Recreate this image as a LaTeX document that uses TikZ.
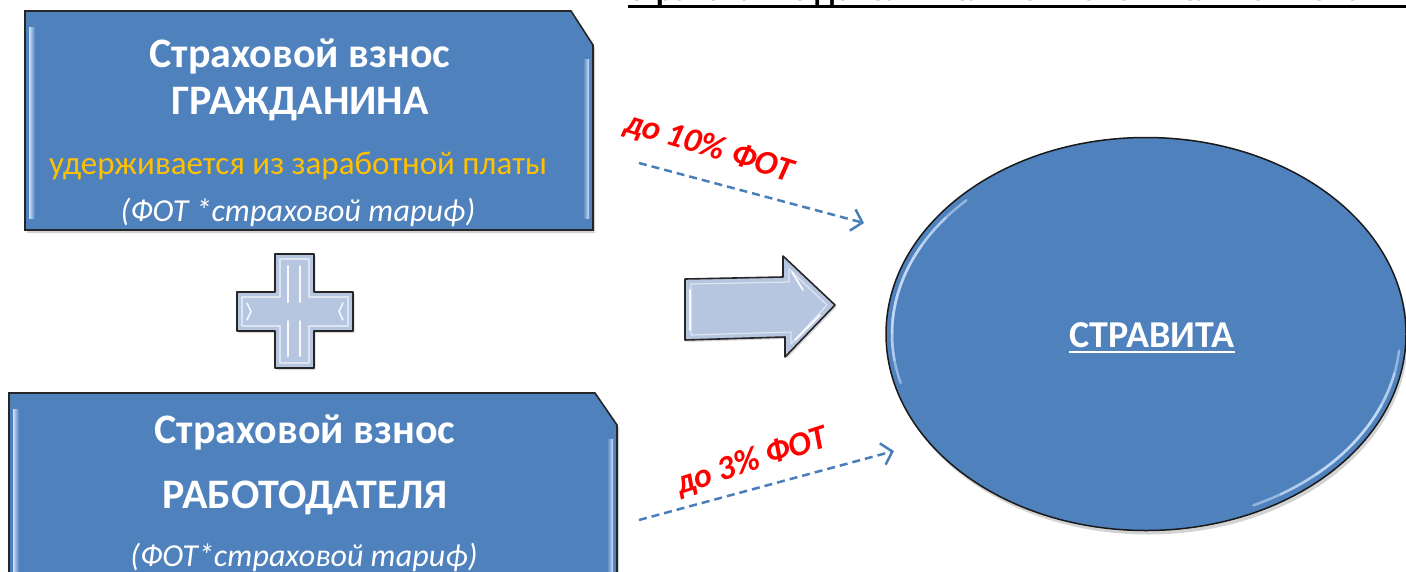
\documentclass[tikz,border=0pt]{standalone}
\usepackage{fontspec}
\setmainfont{Carlito}
\usetikzlibrary{shadows,arrows.meta,calc,shapes.geometric}
\definecolor{boxblue}{RGB}{79,129,189}
\definecolor{bevelhi}{RGB}{205,225,250}
\definecolor{lightfill}{RGB}{183,198,224}
\definecolor{orangetxt}{RGB}{255,192,0}
\definecolor{arrowblue}{RGB}{74,126,187}
\tikzset{
  boxshape/.style={fill=boxblue, draw=black!85, line width=1.6pt, line join=miter,
    drop shadow={shadow xshift=2pt, shadow yshift=-3pt, opacity=0.35}},
  holder/.style={inner sep=0pt, outer sep=0pt},
  titletext/.style={text=white, font=\fontsize{42}{48}\selectfont\bfseries, inner sep=0pt, anchor=base},
  notetext/.style={text=orangetxt, font=\fontsize{33}{38}\selectfont, inner sep=0pt, anchor=base},
  formulatext/.style={text=white, font=\fontsize{32}{38}\selectfont\itshape, inner sep=0pt, anchor=base},
  glass/.style={fill=lightfill, draw=black!85, line width=1.6pt, line join=round,
    drop shadow={shadow xshift=1.5pt, shadow yshift=-2pt, opacity=0.3}},
  glasshi/.style={draw=white, opacity=0.55, line width=1.2pt, line join=round},
  streak/.style={draw=white, opacity=0.9, line width=2pt, line cap=round},
  rim/.style={draw=bevelhi, line width=2.5pt, line cap=round, opacity=0.55},
  pcttext/.style={text=red, font=\fontsize{34}{38}\selectfont\bfseries\itshape, inner sep=0pt},
  flow/.style={draw=arrowblue, line width=2.5pt, dash pattern=on 8pt off 5pt,
    -{Straight Barb[length=10pt,width=22pt,line width=2.5pt]}},
}
\begin{document}
\begin{tikzpicture}[x=1pt,y=-1pt]
\useasboundingbox (0,0) rectangle (1406,571);
\clip (0,0) rectangle (1406,571);

% clipped heading at the top
\node[anchor=base west, inner sep=0pt, font=\fontsize{33}{36}\selectfont\bfseries] (heading) at (629,0.5) {страхование дополнительной накопительной пенсии};
\draw[line width=3pt] ($(heading.base west)+(-1,6)$) -- ($(heading.base east)+(30,6)$);

% citizen box
\node[holder, minimum width=568pt, minimum height=219pt] (citizen) at (309,120.5) {};
\path[boxshape] (citizen.south west) -- (citizen.north west) -- ($(citizen.north east)+(-22,0)$)
  -- ($(citizen.north east)+(0,34)$) -- (citizen.south east) -- cycle;
\fill[left color=bevelhi, right color=boxblue] ($(citizen.north west)+(4,16)$) rectangle ($(citizen.south west)+(10,-12)$);
\fill[left color=boxblue, right color=bevelhi] ($(citizen.north east)+(-10,48)$) rectangle ($(citizen.south east)+(-4,-12)$);
\node[titletext] (c1) at (300,67) {Страховой взнос};
\node[titletext] (c2) at (300,114) {ГРАЖДАНИНА};
\node[notetext] (c3) at (298,174) {удерживается из заработной платы};
\node[formulatext] (c4) at (298,221) {(ФОТ *страховой тариф)};

% employer box
\node[holder, minimum width=608pt, minimum height=210pt] (employer) at (313,498) {};
\path[boxshape] (employer.south west) -- (employer.north west) -- ($(employer.north east)+(-22,0)$)
  -- ($(employer.north east)+(0,32)$) -- (employer.south east) -- cycle;
\fill[left color=bevelhi, right color=boxblue] ($(employer.north west)+(4,16)$) rectangle ($(employer.south west)+(10,-12)$);
\fill[left color=boxblue, right color=bevelhi] ($(employer.north east)+(-10,46)$) rectangle ($(employer.south east)+(-4,-12)$);
\node[titletext] (e1) at (305,443) {Страховой взнос};
\node[titletext] (e2) at (305,508) {РАБОТОДАТЕЛЯ};
\node[formulatext] (e3) at (304,566) {(ФОТ*страховой тариф)};

% plus sign
\path[glass] (275,254) -- (314,254) -- (314,292) -- (353,292) -- (353,331) -- (314,331)
  -- (314,368) -- (275,368) -- (275,331) -- (237,331) -- (237,292) -- (275,292) -- cycle;
\path[glasshi] (280,259) -- (309,259) -- (309,297) -- (348,297) -- (348,326) -- (309,326)
  -- (309,363) -- (280,363) -- (280,326) -- (242,326) -- (242,297) -- (280,297) -- cycle;
\draw[streak] (288,266) -- (288,302);
\draw[streak] (300,266) -- (300,302);
\draw[streak] (288,321) -- (288,356);
\draw[streak] (300,321) -- (300,356);
\draw[streak, line width=1.5pt] (247,303) -- (251,311.5) -- (247,320);
\draw[streak, line width=1.5pt] (343,303) -- (339,311.5) -- (343,320);

% big arrow
\path[glass] (685,279) -- (783,277) -- (783,256) -- (835,305) -- (785,357) -- (785,337)
  -- (685,340) -- cycle;
\path[glasshi] (691,284) -- (789,282) -- (789,269) -- (827,305) -- (791,344) -- (791,332)
  -- (691,335) -- cycle;
\draw[streak, line width=1.8pt] (690,290) -- (690,330);
\draw[streak, line width=1.8pt] (792,272) -- (803,290);
\draw[streak, line width=1.8pt] (795,340) -- (820,315);

% ellipse
\node[ellipse, minimum width=520pt, minimum height=393pt, fill=boxblue, draw=black!90,
  line width=1.5pt, drop shadow={shadow xshift=2pt, shadow yshift=-4pt, opacity=0.35}] (stravita) at (1146,334) {};
\foreach \a/\b in {165/225,172/218,180/208}{
  \draw[rim] ($(stravita.center)+({254*cos(\a)},{189*sin(\a)})$) arc[start angle=\a, end angle=\b, x radius=254, y radius=189];
}
\foreach \a/\b in {5/65,12/58,22/48}{
  \draw[rim] ($(stravita.center)+({254*cos(\a)},{189*sin(\a)})$) arc[start angle=\a, end angle=\b, x radius=254, y radius=189];
}
\node[text=white, font=\fontsize{38}{42}\selectfont\bfseries, inner sep=0pt, anchor=base] (stlabel) at (1152,347) {СТРАВИТА};
\draw[white, line width=2.5pt] ($(stlabel.base west)+(0,5)$) -- ($(stlabel.base east)+(0,5)$);

% dashed flows
\coordinate (f1s) at (639,163);
\coordinate (f1e) at (864,223);
\coordinate (f2s) at (639,520);
\coordinate (f2e) at (894,451);
\draw[flow] (f1s) -- (f1e);
\draw[flow] (f2s) -- (f2e);
\node[pcttext, rotate=-17] (p1) at (709,148) {до 10\% ФОТ};
\node[pcttext, rotate=18] (p2) at (752,462) {до 3\% ФОТ};
\end{tikzpicture}
\end{document}
